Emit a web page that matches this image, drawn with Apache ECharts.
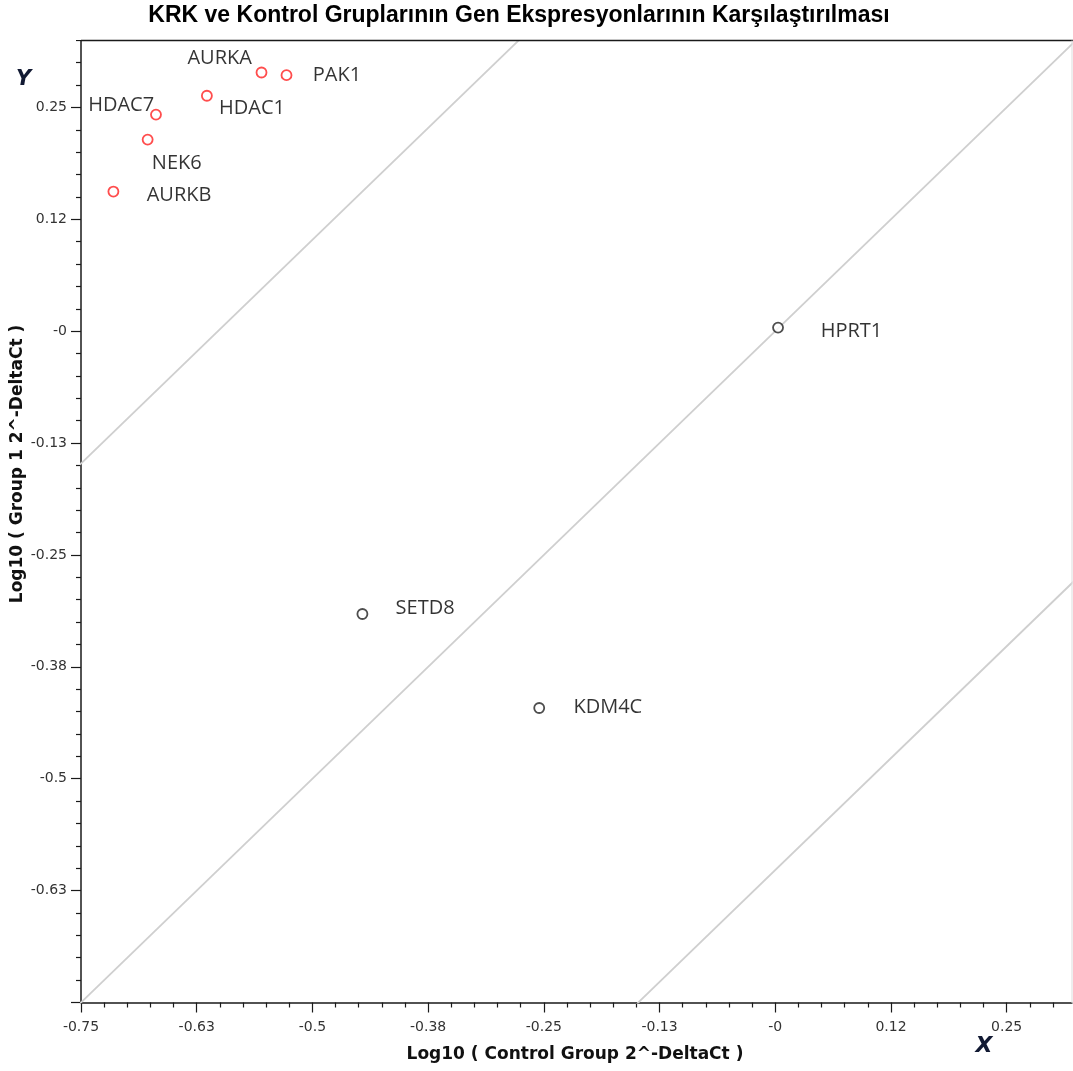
<!DOCTYPE html>
<html>
<head>
<meta charset="utf-8">
<script src="https://cdn.jsdelivr.net/npm/echarts@6/dist/echarts.min.js"></script>
<style>
html,body{margin:0;padding:0;background:#fff;}
#chart{width:1073px;height:1071px;}
</style>
</head>
<body>
<div id="chart"></div>
<script>
// ---- data ----
const genes = ['AURKA', 'PAK1', 'HDAC1', 'HDAC7', 'NEK6', 'AURKB', 'HPRT1', 'SETD8', 'KDM4C'];
const controlLog = [-0.555, -0.528, -0.614, -0.669, -0.678, -0.715, 0.003, -0.446, -0.255];
const group1Log = [0.289, 0.286, 0.263, 0.242, 0.214, 0.156, 0.004, -0.316, -0.421];
const regulation = ['up', 'up', 'up', 'up', 'up', 'up', 'none', 'none', 'none'];
const xTickLabels = ['-0.75', '-0.63', '-0.5', '-0.38', '-0.25', '-0.13', '-0', '0.12', '0.25'];
const yTickLabels = ['', '-0.63', '-0.5', '-0.38', '-0.25', '-0.13', '-0', '0.12', '0.25'];
const foldLines = [0.602, 0, -0.602];
const titleText = 'KRK ve Kontrol Gruplarının Gen Ekspresyonlarının Karşılaştırılması';
const xName = 'Log10 ( Control Group 2^-DeltaCt )';
const yName = 'Log10 ( Group 1 2^-DeltaCt )';

// ---- layout / style ----
const axisMin = -0.75, axisMax = 0.375, step = 0.125;
const labelPlacement = {
  AURKA: ['left', 1.3, -14],
  PAK1: ['right', 15.3, 0],
  HDAC1: ['right', 1.3, 13],
  HDAC7: ['left', 9, -9],
  NEK6: ['right', -6.7, 24],
  AURKB: ['right', 22.4, 4],
  HPRT1: ['right', 31.7, 4],
  SETD8: ['right', 22.3, -5.6],
  KDM4C: ['right', 23.3, -0.6]
};

function tickFmt(labels) {
  return function (v) {
    const k = (v - axisMin) / step;
    const r = Math.round(k);
    if (Math.abs(k - r) < 1e-6 && r >= 0 && r < labels.length) return labels[r];
    return '';
  };
}

function pointsFor(kind) {
  const out = [];
  genes.forEach((g, i) => {
    if (regulation[i] !== kind) return;
    const p = labelPlacement[g];
    out.push({
      name: g,
      value: [controlLog[i], group1Log[i]],
      label: { position: p[0], offset: [p[1], p[2]] }
    });
  });
  return out;
}

const labelStyle = {
  show: true,
  formatter: '{b}',
  distance: 5,
  fontFamily: 'Open Sans',
  fontSize: 20,
  color: '#000'
};

const lineSeries = foldLines.map(off => ({
  type: 'line',
  silent: true,
  symbol: 'none',
  clip: true,
  z: 1,
  lineStyle: { color: '#cfcfcf', width: 1.8 },
  data: [[axisMin - 1, axisMin - 1 + off], [axisMax + 1, axisMax + 1 + off]]
}));

const axisCommon = {
  type: 'value',
  min: axisMin,
  max: axisMax,
  interval: step,
  splitLine: { show: false },
  axisLine: { show: true, onZero: false, lineStyle: { color: '#1a1a1a', width: 1.5 } },
  axisTick: { show: true, inside: false, length: 10, lineStyle: { color: '#1a1a1a', width: 1.2 } },
  minorTick: { show: true, splitNumber: 5, length: 5, lineStyle: { color: '#1a1a1a', width: 1.2 } },
  minorSplitLine: { show: false }
};

const chart = echarts.init(document.getElementById('chart'), null, { renderer: 'canvas' });
chart.setOption({
  animation: false,
  backgroundColor: '#fff',
  grid: { left: 81, top: -4.5, width: 1041.4, height: 1007, containLabel: false, outerBoundsMode: 'none' },
  xAxis: Object.assign({}, axisCommon, {
    axisLabel: { formatter: tickFmt(xTickLabels), margin: 18, fontFamily: 'DejaVu Sans', fontSize: 14, color: '#333' }
  }),
  yAxis: Object.assign({}, axisCommon, {
    axisLabel: { formatter: tickFmt(yTickLabels), margin: 14, fontFamily: 'DejaVu Sans', fontSize: 14, color: '#333' }
  }),
  series: lineSeries.concat([
    {
      type: 'scatter',
      symbol: 'circle',
      symbolSize: 10,
      z: 3,
      itemStyle: { color: '#fff', borderColor: '#ff2020', borderWidth: 1.8 },
      label: labelStyle,
      data: pointsFor('up')
    },
    {
      type: 'scatter',
      symbol: 'circle',
      symbolSize: 10,
      z: 3,
      itemStyle: { color: '#fff', borderColor: '#222', borderWidth: 1.8 },
      label: labelStyle,
      data: pointsFor('none')
    }
  ]),
  graphic: [
    { type: 'rect', z: 100, shape: { x: 0, y: 0, width: 1073, height: 40 }, style: { fill: '#fff' } },
    { type: 'rect', z: 100, shape: { x: 1072.5, y: 0, width: 10, height: 1071 }, style: { fill: '#fff' } },
    { type: 'line', z: 101, shape: { x1: 81, y1: 40.5, x2: 1073, y2: 40.5 }, style: { stroke: '#1a1a1a', lineWidth: 1.6 } },
    { type: 'line', z: 101, shape: { x1: 1072, y1: 40.5, x2: 1072, y2: 1003 }, style: { stroke: '#dddddd', lineWidth: 1 } },
    { type: 'text', z: 102, x: 519, y: 16, style: { text: titleText, fill: '#000', font: 'bold 23px "Liberation Sans"', textAlign: 'center', textVerticalAlign: 'middle' } },
    { type: 'text', z: 102, x: 575, y: 1055, style: { text: xName, fill: '#111', font: 'bold 17px "DejaVu Sans"', textAlign: 'center', textVerticalAlign: 'middle' } },
    { type: 'text', z: 102, x: 18, y: 464, rotation: Math.PI / 2, style: { text: yName, fill: '#111', font: 'bold 17px "DejaVu Sans"', textAlign: 'center', textVerticalAlign: 'middle' } },
    { type: 'text', z: 102, x: 984, y: 1046, style: { text: 'X', fill: '#121a33', font: 'italic bold 22px "DejaVu Sans"', textAlign: 'center', textVerticalAlign: 'middle' } },
    { type: 'text', z: 102, x: 23.5, y: 79.5, style: { text: 'Y', fill: '#121a33', font: 'italic bold 21px "DejaVu Sans"', textAlign: 'center', textVerticalAlign: 'middle' } }
  ]
});
</script>
</body>
</html>
